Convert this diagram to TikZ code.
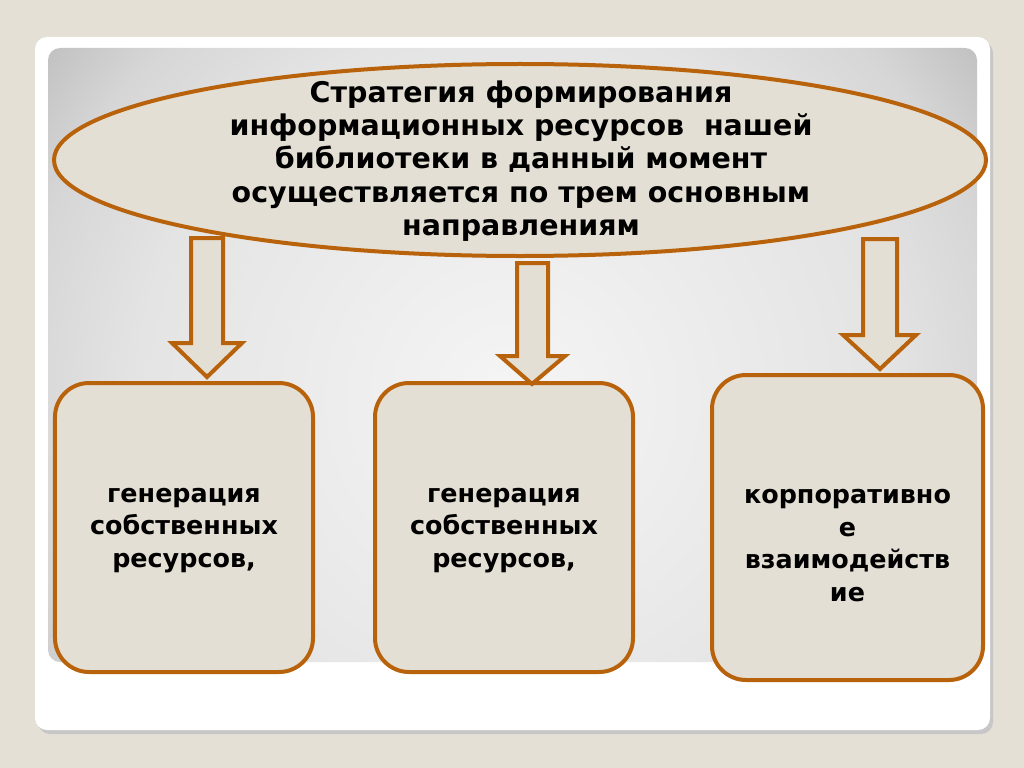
\documentclass[tikz,border=0pt]{standalone}
\usepackage{fontspec}
\setmainfont{DejaVu Sans}
\usetikzlibrary{shapes.geometric}
\definecolor{bgc}{RGB}{228,224,214}
\definecolor{stroke}{RGB}{184,98,12}
\definecolor{fillc}{RGB}{228,223,212}
\definecolor{pan0}{RGB}{245,245,245}
\definecolor{pan1}{RGB}{228,228,228}
\definecolor{pan2}{RGB}{214,214,214}
\definecolor{pan3}{RGB}{176,176,176}
\definecolor{pan4}{RGB}{150,150,150}
\pgfdeclareradialshading{panelshade}{\pgfpoint{0bp}{0bp}}{color(0bp)=(pan0); color(17bp)=(pan1); color(22.6bp)=(pan2); color(29.7bp)=(pan3); color(38.9bp)=(pan4); color(72bp)=(pan4)}
\tikzset{
  shapebox/.style={draw=stroke, line width=4bp, fill=fillc, rounded corners=34bp, minimum width=#1, inner sep=0pt},
  blockarrow/.style={draw=stroke, line width=4bp, fill=fillc, line join=miter},
  ellipsetext/.style={align=center, font=\fontsize{28.6}{33.5}\selectfont\bfseries, inner sep=0pt},
  boxtext/.style={align=center, font=\fontsize{25.5}{33}\selectfont\bfseries, inner sep=0pt},
}
\begin{document}
\begin{tikzpicture}[x=1bp,y=-1bp]
\useasboundingbox (0,0) rectangle (1024,768);
\fill[bgc] (0,0) rectangle (1024,768);
% card shadow and card
\fill[black!22, rounded corners=12bp] (38,41) rectangle (993,734);
\fill[white, rounded corners=12bp] (35,37) rectangle (990,730);
% panel
\begin{scope}
\clip[rounded corners=12bp] (48,48) rectangle (977,662);
\path[shading=panelshade] (-38,-150) rectangle (1062,950);
\end{scope}
% ellipse
\node[ellipse, draw=stroke, line width=4bp, fill=fillc, minimum width=932bp, minimum height=192bp, inner sep=0pt] (ell) at (520,160) {};
\node[ellipsetext] (ellt) at (521,161) {Стратегия формирования\\информационных ресурсов~ нашей\\библиотеки в данный момент\\осуществляется по трем основным\\направлениям};
% boxes
\node[shapebox=258bp, minimum height=289bp] (b1) at (184,527.5) {};
\node[shapebox=258bp, minimum height=289bp] (b2) at (504,527.5) {};
\node[shapebox=271bp, minimum height=305bp] (b3) at (847.5,527.5) {};
\node[boxtext] (t1) at ([yshift=-3bp]b1.center) {генерация\\собственных\\ресурсов,};
\node[boxtext] (t2) at ([yshift=-3bp]b2.center) {генерация\\собственных\\ресурсов,};
\node[boxtext] (t3) at ([yshift=-18bp]b3.center) {корпоративно\\е\\взаимодейств\\ие};
% block arrows
\draw[blockarrow] (191,238) -- (223,238) -- (223,343) -- (242,343) -- (207,377) -- (172,343) -- (191,343) -- cycle;
\draw[blockarrow] (517,263) -- (548,263) -- (548,356) -- (565,356) -- (532,384) -- (500,356) -- (517,356) -- cycle;
\draw[blockarrow] (863,239) -- (897,239) -- (897,335) -- (916,335) -- (880,369) -- (843,335) -- (863,335) -- cycle;
\end{tikzpicture}
\end{document}
